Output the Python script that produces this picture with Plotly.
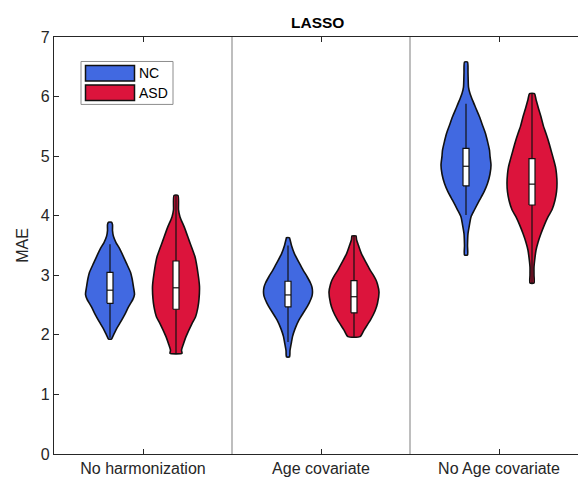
import plotly.graph_objects as go

# ---------------- data ----------------
categories = ["No harmonization", "Age covariate", "No Age covariate"]
groups = ["NC", "ASD"]

# density profiles: MAE levels and relative density (0..50 scale)
nc1_y = [1.93, 1.98, 2.10, 2.20, 2.35, 2.47, 2.60, 2.68, 2.80, 2.95, 3.05, 3.20, 3.31, 3.45, 3.55, 3.65, 3.75, 3.85, 3.89]
nc1_d = [3, 6, 13, 20, 30, 37, 46, 49, 47, 44, 41, 33, 27, 19, 12, 7, 5, 5, 3]
asd1_y = [1.69, 1.74, 1.85, 1.97, 2.19, 2.30, 2.47, 2.60, 2.81, 3.03, 3.31, 3.59, 3.80, 3.98, 4.10, 4.34]
asd1_d = [12, 11, 15, 20, 32, 39, 44, 46, 47, 44, 38, 26, 17, 8, 5, 4]
nc2_y = [1.63, 1.74, 1.88, 1.97, 2.10, 2.25, 2.40, 2.53, 2.65, 2.72, 2.80, 2.87, 2.98, 3.09, 3.20, 3.36, 3.50, 3.60, 3.63]
nc2_d = [3, 4, 7, 9, 14, 22, 33, 42, 48, 49, 48, 45, 38, 30, 23, 13, 7, 4, 3]
asd2_y = [1.97, 2.08, 2.25, 2.40, 2.53, 2.72, 2.85, 2.92, 3.00, 3.09, 3.20, 3.36, 3.50, 3.60, 3.66]
asd2_d = [12, 20, 33, 42, 47, 50, 47, 44, 39, 32, 25, 15, 9, 5, 4]
nc3_y = [3.34, 3.50, 3.70, 3.85, 3.98, 4.10, 4.26, 4.40, 4.54, 4.70, 4.85, 5.00, 5.10, 5.25, 5.38, 5.52, 5.66, 5.80, 5.94, 6.05, 6.16, 6.40, 6.58]
nc3_d = [3, 3, 4, 7, 10, 17, 27, 36, 43, 48, 50, 48, 47, 43, 39, 33, 27, 20, 13, 8, 5, 4, 3]
asd3_y = [2.87, 3.00, 3.14, 3.30, 3.42, 3.55, 3.70, 3.85, 3.98, 4.10, 4.26, 4.40, 4.54, 4.70, 4.82, 4.95, 5.10, 5.25, 5.38, 5.50, 5.66, 5.80, 5.95, 6.05]
asd3_d = [4, 4, 4, 6, 8, 12, 18, 25, 32, 40, 46, 49, 50, 49, 47, 43, 38, 33, 28, 23, 18, 13, 8, 5]

# box statistics per category
nc_q1 = [2.53, 2.47, 4.50]
nc_med = [2.75, 2.67, 4.83]
nc_q3 = [3.05, 2.90, 5.13]
nc_wlo = [1.95, 1.88, 4.01]
nc_whi = [3.52, 3.50, 5.88]
asd_q1 = [2.43, 2.37, 4.18]
asd_med = [2.79, 2.64, 4.53]
asd_q3 = [3.24, 2.91, 4.96]
asd_wlo = [1.69, 1.97, 2.87]
asd_whi = [4.34, 3.66, 6.05]

y_ticks = [0, 1, 2, 3, 4, 5, 6, 7]

# ---------------- styles ----------------
COLORS = {"NC": "#4169E1", "ASD": "#DC143C"}
AX = "#262626"
FONT = "Liberation Sans, Arial, Helvetica, sans-serif"
W, H = 578, 484
ML, MR, MT, MB = 54, 0, 36.5, 30
PX_PER_UNIT = 178.0
HALF_MAX = 25.0 / PX_PER_UNIT      # half width of violin at max density
OFFSET = 33.0 / PX_PER_UNIT        # group offset from category centre
BOX_HALF = 3.0 / PX_PER_UNIT

profiles = {
    "NC": [(nc1_y, nc1_d), (nc2_y, nc2_d), (nc3_y, nc3_d)],
    "ASD": [(asd1_y, asd1_d), (asd2_y, asd2_d), (asd3_y, asd3_d)],
}
stats = {
    "NC": (nc_q1, nc_med, nc_q3, nc_wlo, nc_whi),
    "ASD": (asd_q1, asd_med, asd_q3, asd_wlo, asd_whi),
}

fig = go.Figure()

for gi, g in enumerate(groups):
    sign = -1 if g == "NC" else 1
    q1s, meds, q3s, wlos, whis = stats[g]
    for ci in range(len(categories)):
        c = ci + 1 + sign * OFFSET
        ys, ds = profiles[g][ci]
        xs = [c + d / 50.0 * HALF_MAX for d in ds] + [c - d / 50.0 * HALF_MAX for d in reversed(ds)]
        yy = list(ys) + list(reversed(ys))
        xs.append(xs[0]); yy.append(yy[0])
        fig.add_trace(go.Scatter(x=xs, y=yy, mode="lines", fill="toself",
                                 fillcolor=COLORS[g],
                                 line=dict(color="#111111", width=1.6, shape="spline", smoothing=0.6),
                                 hoverinfo="skip", showlegend=False))
        # whisker
        fig.add_trace(go.Scatter(x=[c, c], y=[wlos[ci], whis[ci]], mode="lines",
                                 line=dict(color="#111111", width=1.2),
                                 hoverinfo="skip", showlegend=False))
        # box
        bx = [c - BOX_HALF, c + BOX_HALF, c + BOX_HALF, c - BOX_HALF, c - BOX_HALF]
        by = [q1s[ci], q1s[ci], q3s[ci], q3s[ci], q1s[ci]]
        fig.add_trace(go.Scatter(x=bx, y=by, mode="lines", fill="toself", fillcolor="white",
                                 line=dict(color="#111111", width=1.2),
                                 hoverinfo="skip", showlegend=False))
        fig.add_trace(go.Scatter(x=[c - BOX_HALF, c + BOX_HALF], y=[meds[ci], meds[ci]], mode="lines",
                                 line=dict(color="#111111", width=1.2),
                                 hoverinfo="skip", showlegend=False))

plot_w = W - ML - MR
plot_h = H - MT - MB
x_end = 0.5 + plot_w / PX_PER_UNIT

shapes = []
for ci in range(1, len(categories)):
    shapes.append(dict(type="line", xref="x", yref="y", x0=ci + 0.5, x1=ci + 0.5,
                       y0=y_ticks[0], y1=y_ticks[-1], line=dict(color="#A8A8A8", width=1.5), layer="below"))

def px(x):
    return (x - ML) / plot_w

def py(y):
    return (H - MB - y) / plot_h

# custom legend
shapes.append(dict(type="rect", xref="paper", yref="paper", x0=px(81), x1=px(173), y0=py(104), y1=py(61),
                   line=dict(color="#8C8C8C", width=1), fillcolor="white"))
annotations = []
for i, g in enumerate(groups):
    top = 65 + i * 19.5
    shapes.append(dict(type="rect", xref="paper", yref="paper", x0=px(85.5), x1=px(134.5),
                       y0=py(top + 15.5), y1=py(top), line=dict(color="#111111", width=1.5),
                       fillcolor=COLORS[g]))
    annotations.append(dict(xref="paper", yref="paper", x=px(136.5), y=py(top + 8), text=g,
                            showarrow=False, xanchor="left", yanchor="middle",
                            font=dict(family=FONT, size=14, color="black")))

annotations.append(dict(xref="paper", yref="paper", x=px(317), y=py(22), text="<b>LASSO</b>", showarrow=False,
                        xanchor="center", yanchor="middle",
                        font=dict(family=FONT, size=15.5, color="black")))

fig.update_layout(
    width=W, height=H,
    margin=dict(l=ML, r=MR, t=MT, b=MB, pad=0),
    paper_bgcolor="white", plot_bgcolor="white",
    font=dict(family=FONT, size=16, color=AX),
    shapes=shapes, annotations=annotations,
    showlegend=False,
    xaxis=dict(range=[0.5, x_end], tickmode="array", tickvals=[1, 2, 3], ticktext=categories,
               ticks="inside", ticklen=5, tickcolor=AX, tickwidth=1,
               showline=True, linecolor=AX, linewidth=1.2, mirror="ticks",
               showgrid=False, zeroline=False, tickfont=dict(size=16, color=AX)),
    yaxis=dict(range=[y_ticks[0], y_ticks[-1]], tickmode="array", tickvals=y_ticks,
               ticks="inside", ticklen=5, tickcolor=AX, tickwidth=1,
               showline=True, linecolor=AX, linewidth=1.2, mirror=False,
               showgrid=False, zeroline=False, tickfont=dict(size=16, color=AX),
               title=dict(text="MAE", font=dict(size=16, color=AX), standoff=8)),
)

fig.write_html("out.html")
